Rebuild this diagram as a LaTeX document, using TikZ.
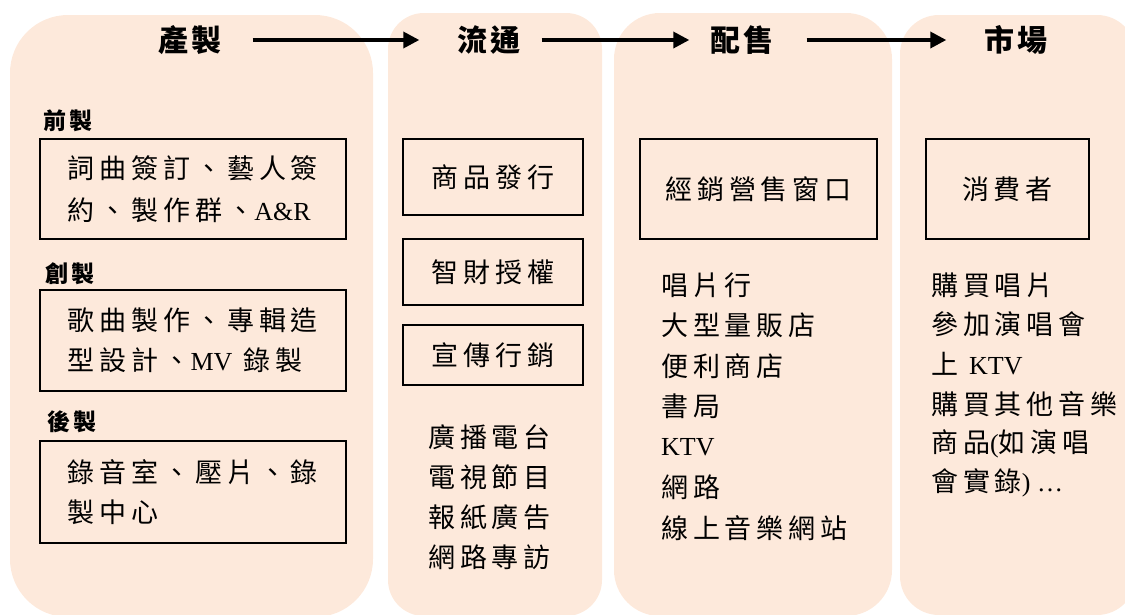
\documentclass[tikz,border=0pt]{standalone}
\usepackage{fontspec}
\usetikzlibrary{arrows.meta}
\setmainfont{Liberation Serif}
\newfontfamily\cjk[LetterSpace=18]{Noto Sans CJK TC}
\newfontfamily\cjkhead[LetterSpace=10]{Noto Sans CJK TC}
\newfontfamily\cjksub[LetterSpace=16]{Noto Sans CJK TC}
\definecolor{panelfill}{HTML}{FDE9DB}
\newcommand\bodyfont{\cjk\fontsize{27}{40}\selectfont}
\newcommand\lt[1]{{\rmfamily\fontsize{26}{40}\selectfont #1}}
\begin{document}
\begin{tikzpicture}[x=1pt,y=-1pt,
  panel/.style={fill=panelfill,draw=none},
  hdr/.style={font=\cjkhead\bfseries\fontsize{30}{30}\selectfont,inner sep=0pt},
  sublbl/.style={font=\cjksub\bfseries\fontsize{23}{23}\selectfont,anchor=west,inner sep=0pt},
  boxnode/.style={draw=black,line width=1.6pt,align=left,font=\bodyfont,inner sep=0pt},
  item/.style={font=\bodyfont,anchor=west,inner sep=0pt},
  flow/.style={line width=3.5pt,-{Triangle[length=16pt,width=16pt]}}]
\useasboundingbox (0,0) rectangle (1125,614);
\clip (0,0) rectangle (1125,614);
% panels
\path[panel,rounded corners=58pt] (10,15) rectangle (373,617);
\path[panel,rounded corners=36pt] (388,13) rectangle (602,616);
\path[panel,rounded corners=46pt] (614,13) rectangle (892,616);
\path[panel,rounded corners=39pt] (900,15) rectangle (1136,615);
% headers
\node[hdr] (h1) at (190,40) {產製};
\node[hdr] (h2) at (489,40) {流通};
\node[hdr] (h3) at (742,40) {配售};
\node[hdr] (h4) at (1016,40) {市場};
\draw[flow,shorten <=31pt,shorten >=38pt] (h1) -- (h2);
\draw[flow,shorten <=21pt,shorten >=21pt] (h2) -- (h3);
\draw[flow,shorten <=33pt,shorten >=38pt] (h3) -- (h4);
% panel 1
\node[sublbl] (s1) at (43,121) {前製};
\node[sublbl] (s2) at (45,274) {創製};
\node[sublbl] (s3) at (47,422) {後製};
\node[boxnode,minimum width=306pt,minimum height=100pt] (b1) at (193,189)
  {詞曲簽訂、藝人簽\\[2pt]約、製作群、\lt{A\&R}};
\node[boxnode,minimum width=306pt,minimum height=101pt] (b2) at (193,340.5)
  {歌曲製作、專輯造\\型設計、\lt{MV}\ 錄製};
\node[boxnode,minimum width=306pt,minimum height=102pt] (b3) at (193,492)
  {錄音室、壓片、錄\\製中心};
% panel 2
\node[boxnode,minimum width=180pt,minimum height=76pt] (c1) at (493,177) {商品發行};
\node[boxnode,minimum width=180pt,minimum height=66pt] (c2) at (493,272) {智財授權};
\node[boxnode,minimum width=180pt,minimum height=60pt] (c3) at (493,355) {宣傳行銷};
\foreach \t [count=\i] in {廣播電台,電視節目,報紙廣告,網路專訪}
  \node[item] (pr\i) at (428,{437+(\i-1)*40}) {\t};
% panel 3
\node[boxnode,minimum width=237pt,minimum height=100pt] (d1) at (758.5,189) {經銷營售窗口};
\foreach \t [count=\i] in {唱片行,大型量販店,便利商店,書局,{\lt{KTV}},網路,線上音樂網站}
  \node[item] (ds\i) at (661,{285+(\i-1)*40.5}) {\t};
% panel 4
\node[boxnode,minimum width=163pt,minimum height=100pt] (e1) at (1007.5,189) {消費者};
\foreach \t [count=\i] in {購買唱片,參加演唱會,{上\ \lt{KTV}},購買其他音樂,{商品\lt{(}如演唱},{會實錄\lt{) \ldots}}}
  \node[item] (mk\i) at (931,{285+(\i-1)*39.6}) {\t};
\end{tikzpicture}
\end{document}
